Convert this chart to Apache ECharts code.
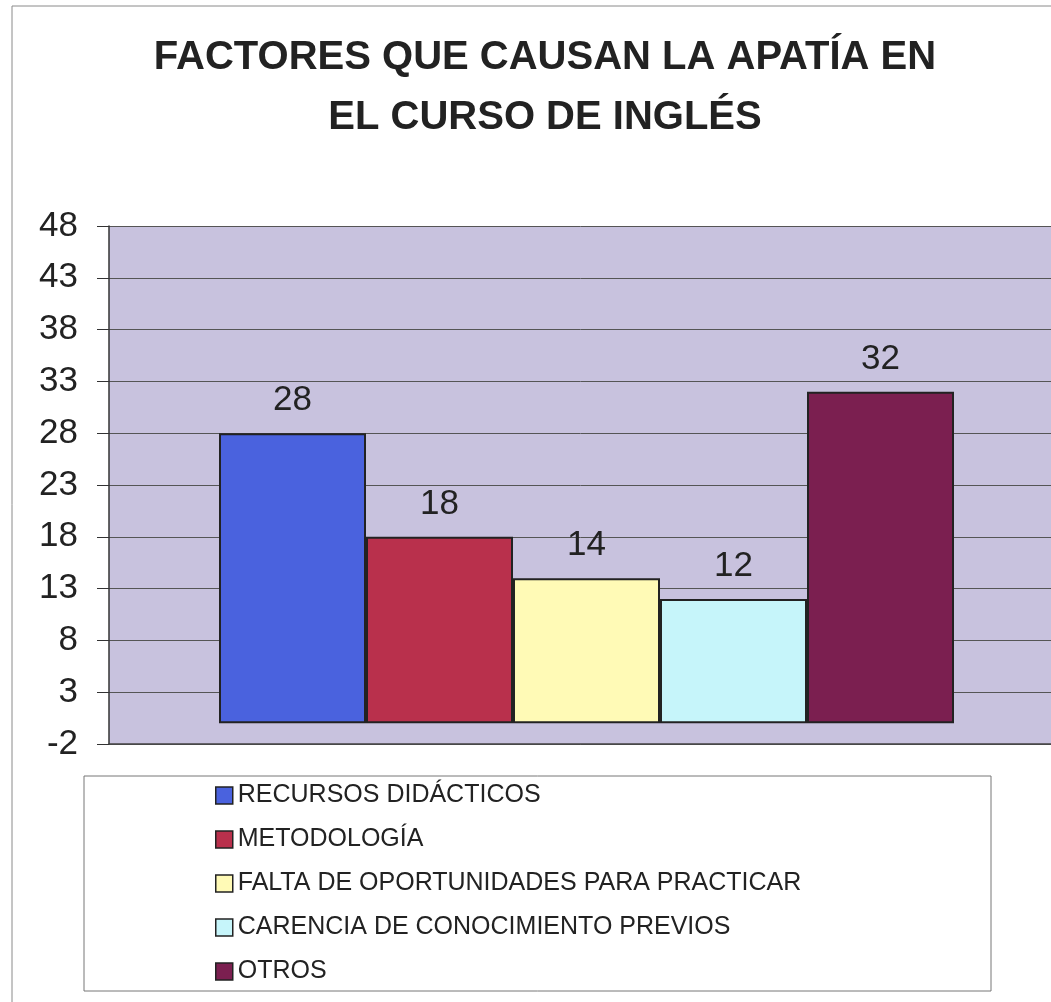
<!DOCTYPE html>
<html>
<head>
<meta charset="utf-8">
<script src="https://cdn.jsdelivr.net/npm/echarts@6/dist/echarts.min.js"></script>
<style>
  html, body { margin: 0; padding: 0; background: #fff; }
  #chart { width: 1051px; height: 1002px; }
</style>
</head>
<body>
<div id="chart"></div>
<script>
  // data
  const titleText = 'FACTORES QUE CAUSAN LA APATÍA EN\nEL CURSO DE INGLÉS';
  const factorNames = [
    'RECURSOS DIDÁCTICOS',
    'METODOLOGÍA',
    'FALTA DE OPORTUNIDADES PARA PRACTICAR',
    'CARENCIA DE CONOCIMIENTO PREVIOS',
    'OTROS'
  ];
  const factorValues = [28, 18, 14, 12, 32];
  const factorColors = ['#4a62de', '#b9304c', '#fffab6', '#c6f5fa', '#7b1f50'];
  const yMin = -2;
  const yMax = 48;
  const yStep = 5;

  const chart = echarts.init(document.getElementById('chart'));
  const font = 'Arial, "Liberation Sans", sans-serif';

  const series = factorNames.map((name, i) => ({
    name,
    type: 'bar',
    data: [factorValues[i]],
    barWidth: 147,
    barGap: '0%',
    itemStyle: {
      color: factorColors[i],
      borderColor: '#222',
      borderWidth: 2
    },
    label: {
      show: true,
      position: 'top',
      distance: 15,
      fontFamily: font,
      fontSize: 35,
      color: '#222'
    }
  }));

  chart.setOption({
    animation: false,
    backgroundColor: '#fff',
    title: {
      text: titleText,
      left: 545,
      top: 28,
      padding: 0,
      textAlign: 'center',
      textStyle: {
        fontFamily: font,
        fontSize: 40,
        fontWeight: 'bold',
        lineHeight: 60,
        color: '#222'
      }
    },
    graphic: [
      {
        type: 'rect',
        z: -10,
        shape: { x: 12, y: 6, width: 1100, height: 1100 },
        style: { fill: 'none', stroke: '#8a8a8a', lineWidth: 1 }
      },
      {
        type: 'rect',
        z: -10,
        shape: { x: 84, y: 776, width: 907, height: 215 },
        style: { fill: '#fff', stroke: '#777', lineWidth: 1 }
      }
    ],
    legend: {
      orient: 'vertical',
      left: 215,
      top: 783,
      padding: 0,
      itemWidth: 17,
      itemHeight: 17,
      itemGap: 19,
      icon: 'rect',
      itemStyle: { borderColor: '#222', borderWidth: 1.5 },
      textStyle: {
        fontFamily: font,
        fontSize: 25,
        lineHeight: 25,
        color: '#222'
      },
      data: factorNames
    },
    grid: {
      left: 109,
      right: -13,
      top: 226,
      bottom: 258,
      outerBoundsMode: 'none',
      containLabel: false,
      show: true,
      backgroundColor: '#c8c2de',
      borderWidth: 0
    },
    xAxis: {
      type: 'category',
      data: [''],
      axisLine: { show: true, onZero: false, lineStyle: { color: '#444', width: 1.5 } },
      axisTick: { show: false },
      axisLabel: { show: false },
      splitLine: { show: false }
    },
    yAxis: {
      type: 'value',
      min: yMin,
      max: yMax,
      interval: yStep,
      axisLine: { show: true, lineStyle: { color: '#333', width: 1.5 } },
      axisTick: { show: true, length: 12, lineStyle: { color: '#333' } },
      axisLabel: {
        margin: 31,
        fontFamily: font,
        fontSize: 35,
        color: '#222'
      },
      splitLine: { show: true, lineStyle: { color: '#555', width: 1 } }
    },
    series
  });
</script>
</body>
</html>
